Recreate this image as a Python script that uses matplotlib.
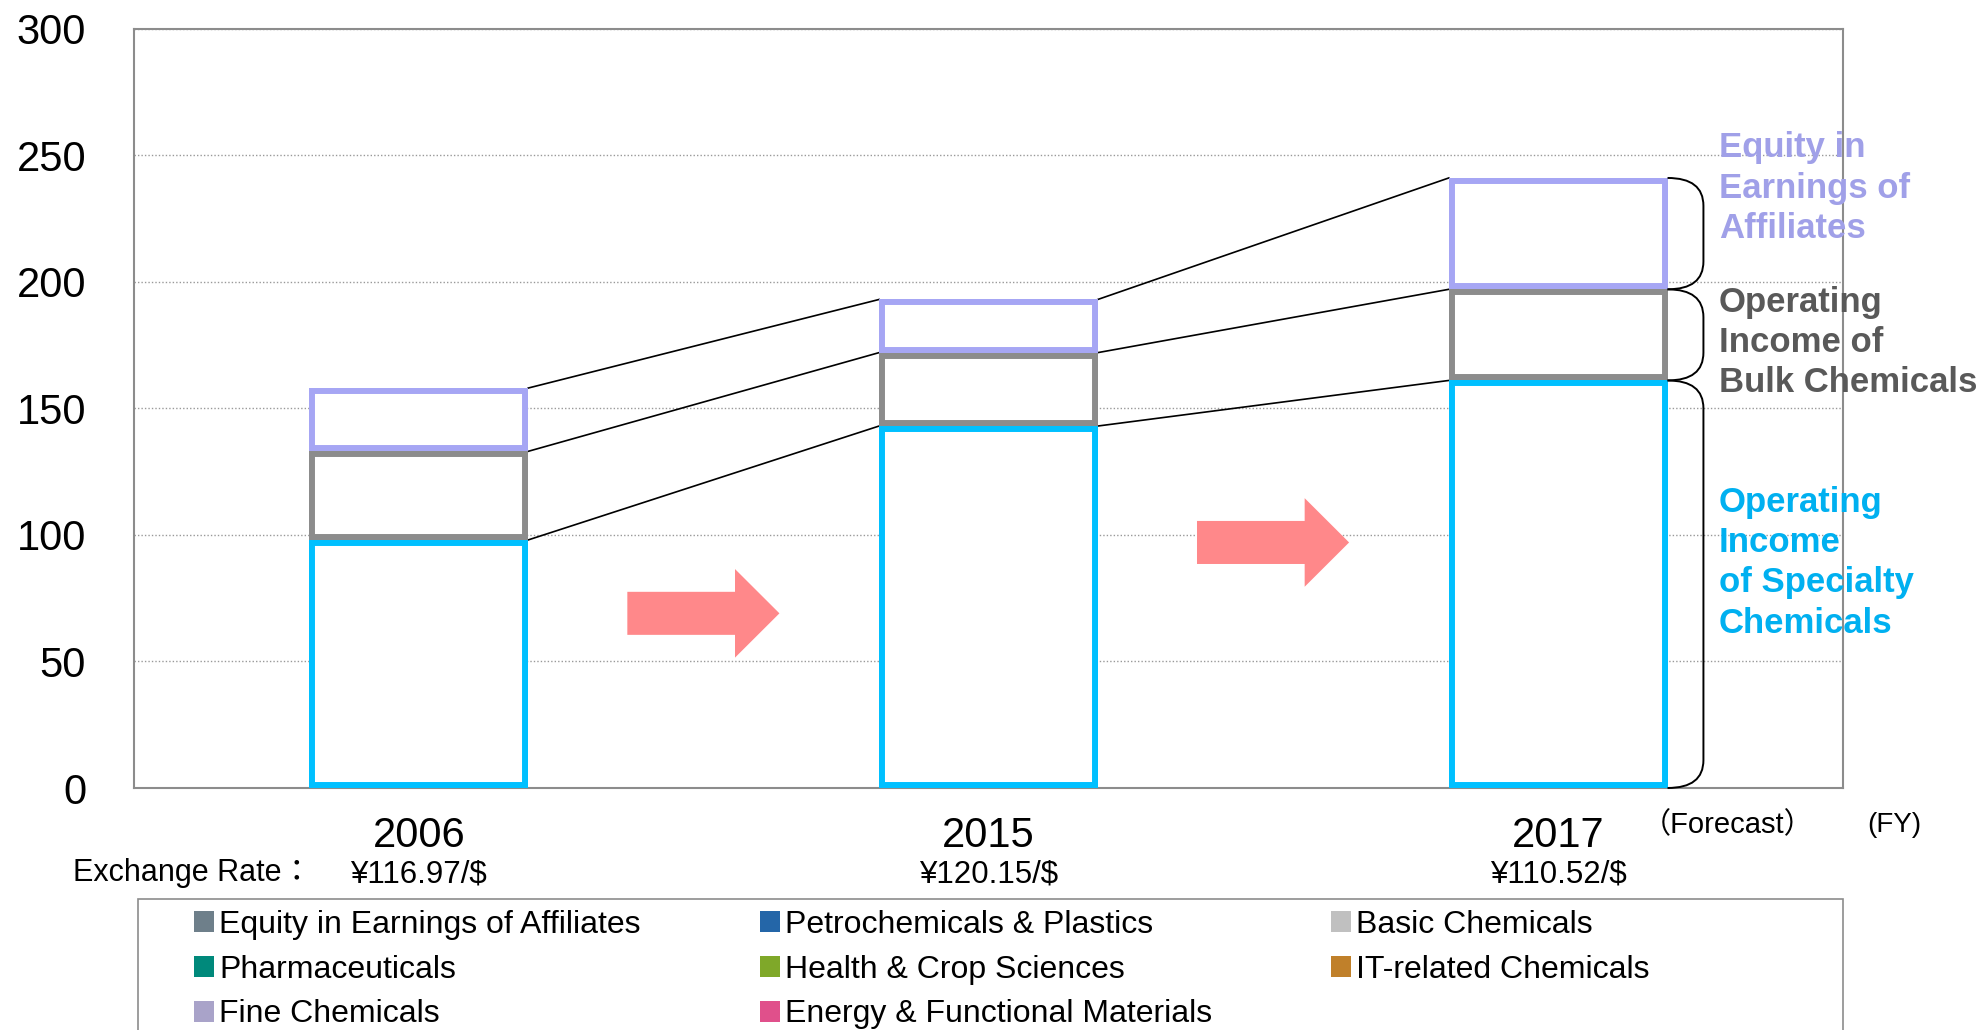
import matplotlib
matplotlib.use('Agg')
import matplotlib.pyplot as plt
from matplotlib.patches import Patch, Rectangle, FancyArrow, PathPatch
from matplotlib.path import Path
import numpy as np

plt.rcParams['font.family'] = ['Liberation Sans', 'Noto Sans CJK JP', 'DejaVu Sans']

# data (billion yen)
years = ['2006', '2015', '2017']
specialty = [98, 143, 161]
bulk = [35, 29, 36]
equity = [25, 21, 44]
rates = ['¥116.97/$', '¥120.15/$', '¥110.52/$']

legend_labels = ['Equity in Earnings of Affiliates', 'Pharmaceuticals', 'Fine Chemicals',
                 'Petrochemicals & Plastics', 'Health & Crop Sciences', 'Energy & Functional Materials',
                 'Basic Chemicals', 'IT-related Chemicals']
legend_colors = ['#6E7F8A', '#00897B', '#A9A3C9',
                 '#2466A8', '#7FA829', '#E0508B',
                 '#C0C0C0', '#C0802A']

c_spec = '#00C0FF'
c_bulk = '#8C8C8C'
c_eq = '#A6A6F4'

x = np.arange(len(years))
w = 0.384

fig = plt.figure(figsize=(19.8, 10.3), dpi=100)
ax = fig.add_axes([134 / 1980, 1 - 788 / 1030, 1709 / 1980, (788 - 28.6) / 1030])

spec = np.array(specialty)
mid = spec + np.array(bulk)
top = mid + np.array(equity)

# stacked outline bars, stroke kept inside each box
lw = 8.6
for bottom, h, col in [(0, spec, c_spec), (spec, bulk, c_bulk), (mid, equity, c_eq)]:
    bars = ax.bar(x, h, w, bottom=bottom, color='white', edgecolor=col, linewidth=lw, zorder=3)
    for p in bars:
        p.set_clip_path(p)

# connector lines between bars
for lvl in [spec, mid, top]:
    for i in range(len(x) - 1):
        ax.plot([x[i] + w / 2, x[i + 1] - w / 2], [lvl[i], lvl[i + 1]], color='black', lw=1.2, zorder=2)

# growth arrows
arrow_y = [69, 97]
for i, ay in enumerate(arrow_y):
    ax.add_patch(FancyArrow(x[i] + 0.366, ay, 0.267, 0, width=17, head_width=35, head_length=0.078,
                            length_includes_head=True, color='#FF888A', lw=0, zorder=2))

# braces on the right of the last bar
x0 = x[-1] + w / 2
x1 = x0 + 0.063
r = 11
for lo, hi in [(0, spec[-1]), (spec[-1], mid[-1]), (mid[-1], top[-1])]:
    verts = [(x0, hi), (x1, hi), (x1, hi - r), (x1, lo + r), (x1, lo), (x0, lo)]
    codes = [Path.MOVETO, Path.CURVE3, Path.CURVE3, Path.LINETO, Path.CURVE3, Path.CURVE3]
    ax.add_patch(PathPatch(Path(verts, codes), fill=False, edgecolor='black', lw=1.4,
                           clip_on=False, zorder=4))

# side labels
lx = x0 + 0.09
lab = dict(fontsize=25, fontweight='bold', va='center', ha='left', linespacing=1.28, clip_on=False)
ax.text(lx, 237, 'Equity in\nEarnings of\nAffiliates', color='#A0A0E8', **lab)
ax.text(lx, 176, 'Operating\nIncome of\nBulk Chemicals', color='#595959', **lab)
ax.text(lx, 89, 'Operating\nIncome\nof Specialty\nChemicals', color='#00B0F0', **lab)

# axes styling
ax.set_xlim(-0.5, 2.5)
ax.set_ylim(0, 300)
ax.set_yticks(np.arange(0, 301, 50))
ax.tick_params(axis='y', length=0, pad=34.5, labelsize=30)
ax.set_xticks([])
ax.yaxis.grid(True, linestyle=(0, (1, 1.5)), color='#999999', lw=1)
ax.set_axisbelow(True)
for s in ax.spines.values():
    s.set_color('#8C8C8C')
    s.set_linewidth(1.5)

# year labels and exchange rates
for xi, yr, rt in zip(x, years, rates):
    ax.annotate(yr, (xi, 0), xycoords=('data', 'axes fraction'), xytext=(0, -34.6),
                textcoords='offset points', ha='center', va='center', fontsize=30)
    ax.annotate(rt, (xi, 0), xycoords=('data', 'axes fraction'), xytext=(0, -62.5),
                textcoords='offset points', ha='center', va='center', fontsize=22.5)
ax.annotate('Exchange Rate：', (0, 0), xycoords='axes fraction', xytext=(-44, -61),
            textcoords='offset points', ha='left', va='center', fontsize=22)
ax.annotate('（Forecast）', (x[-1], 0), xycoords=('data', 'axes fraction'), xytext=(122, -27),
            textcoords='offset points', ha='center', va='center', fontsize=21)
ax.annotate('(FY)', (1, 0), xycoords='axes fraction', xytext=(37, -27),
            textcoords='offset points', ha='center', va='center', fontsize=20)

# legend box and entries
fig.patches.append(Rectangle((138 / 1980, -0.05), (1843 - 138) / 1980, 0.05 + 1 - 899 / 1030,
                             transform=fig.transFigure, fill=False, edgecolor='#8C8C8C', lw=1.2))
handles = [Patch(facecolor=c, edgecolor='none') for c in legend_colors]
fig.legend(handles, legend_labels, ncol=3, loc='upper left', bbox_to_anchor=(194 / 1980, 1 - 910 / 1030),
           frameon=False, fontsize=23, handlelength=0.63, handleheight=0.63, handletextpad=0.16,
           columnspacing=3.72, labelspacing=0.46, borderpad=0, borderaxespad=0)

fig.savefig('out.png', dpi=100)
